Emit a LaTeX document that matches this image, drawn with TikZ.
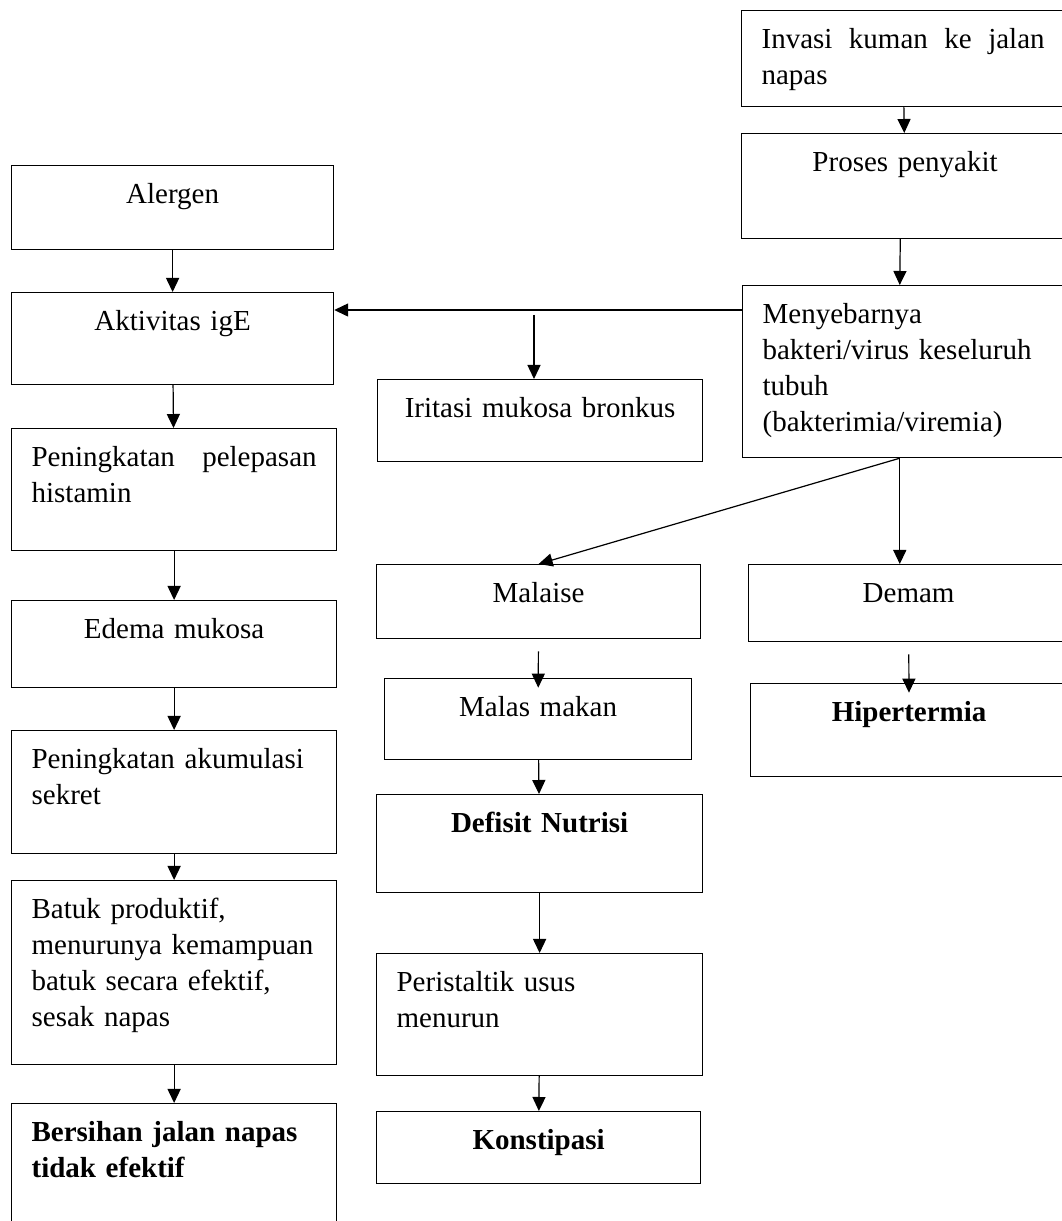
\documentclass[tikz,border=0pt]{standalone}
\usepackage{fontspec}
\setmainfont{Liberation Serif}
\usetikzlibrary{arrows.meta}

\newdimen\pxu \pxu=0.4138pt
\newdimen\boxw
\newdimen\boxd

\tikzset{
  flowbox/.style 2 args={/utils/exec={\boxw=\dimexpr\pxu*(#1-40)\relax\boxd=\dimexpr\pxu*(#2-38)\relax},
    draw, line width=0.5pt, anchor=north west, inner xsep=8.28pt, inner ysep=0pt,
    align=left, font=\fontsize{12}{14.9}\selectfont,
    text width=\the\boxw, text height=15.72pt, text depth=\the\boxd},
  flowarrow/.style={-{Triangle[length=5.8pt,width=5.4pt]}, line width=0.5pt}
}

\begin{document}
\begin{tikzpicture}[x=\pxu, y=-\pxu]

\path[use as bounding box, fill=white] (0,0) rectangle (1062,1221);

% left column
{
\node[flowbox={322}{84}, align=center] (alergen) at (11,165) {Alergen};
\node[flowbox={322}{92}, align=center] (aktivitas) at (11,292) {Aktivitas igE};
\node[flowbox={325}{122}] (histamin) at (11,428)
{\makebox[\linewidth]{Peningkatan\hfill pelepasan}\\histamin};
\node[flowbox={325}{87}, align=center] (edema) at (11,600) {Edema mukosa};
\node[flowbox={325}{123}] (sekret) at (11,730) {Peningkatan akumulasi\\sekret};
\node[flowbox={325}{184}] (batuk) at (11,880)
{Batuk produktif,\\menurunya kemampuan\\batuk secara efektif,\\sesak napas};
\node[flowbox={325}{160}, font=\fontsize{12}{14.9}\selectfont\bfseries] (bersihan) at (11,1103)
{Bersihan jalan napas\\tidak efektif};
}

% middle column
{
\node[flowbox={325}{82}, align=center] (iritasi) at (377,379) {Iritasi mukosa bronkus};
\node[flowbox={324}{74}, align=center] (malaise) at (376,564) {Malaise};
\node[flowbox={307}{81}, align=center] (malas) at (384,678) {Malas makan};
\node[flowbox={326}{98}, align=center, font=\fontsize{12}{14.9}\selectfont\bfseries] (defisit) at (376,794)
{Defisit Nutrisi};
\node[flowbox={326}{122}] (peristaltik) at (376,953) {Peristaltik usus\\menurun};
\node[flowbox={324}{72}, align=center, font=\fontsize{12}{14.9}\selectfont\bfseries] (konstipasi) at (376,1111)
{Konstipasi};
}

% right column
{
\node[flowbox={323}{96}] (invasi) at (741,10)
{\makebox[\linewidth]{Invasi\hfill kuman\hfill ke\hfill jalan}\\napas};
\node[flowbox={327}{105}, align=center] (proses) at (741,133) {Proses penyakit};
\node[flowbox={324}{172}] (menyebar) at (742,285)
{Menyebarnya\\bakteri/virus keseluruh\\tubuh\\(bakterimia/viremia)};
\node[flowbox={320}{77}, align=center] (demam) at (748,564) {Demam};
\node[flowbox={317}{93}, align=center, font=\fontsize{12}{14.9}\selectfont\bfseries] (hipertermia) at (750,683)
{Hipertermia};
}

%arrows
{
\coordinate (split) at (534,310);

\draw[flowarrow] (invasi) -- (proses);
\draw[flowarrow] ([xshift=-2pt]proses.south) -- ([xshift=-2pt]menyebar.north);
\draw[flowarrow] (menyebar.west |- split) -- (aktivitas.east |- split);
\draw[flowarrow] ([yshift=-2pt]split) -- (split |- iritasi.north);
\draw[flowarrow] ([xshift=-2pt]menyebar.south) -- (malaise.north);
\draw[flowarrow] ([xshift=-2pt]menyebar.south) -- ([xshift=-2pt]menyebar.south |- demam.north);

\draw[flowarrow] (alergen) -- (aktivitas);
\draw[flowarrow] (aktivitas) -- (histamin);
\draw[flowarrow] (histamin) -- (edema);
\draw[flowarrow] (edema) -- (sekret);
\draw[flowarrow] (sekret) -- (batuk);
\draw[flowarrow] (batuk) -- (bersihan);

\draw[flowarrow, shorten <=5pt, shorten >=-4pt] (malaise) -- (malas);
\draw[flowarrow, shorten <=5pt, shorten >=-4pt] (demam) -- (hipertermia);
\draw[flowarrow] (malas) -- (defisit);
\draw[flowarrow] (defisit) -- (peristaltik);
\draw[flowarrow] (peristaltik) -- (konstipasi);
}

\end{tikzpicture}
\end{document}
